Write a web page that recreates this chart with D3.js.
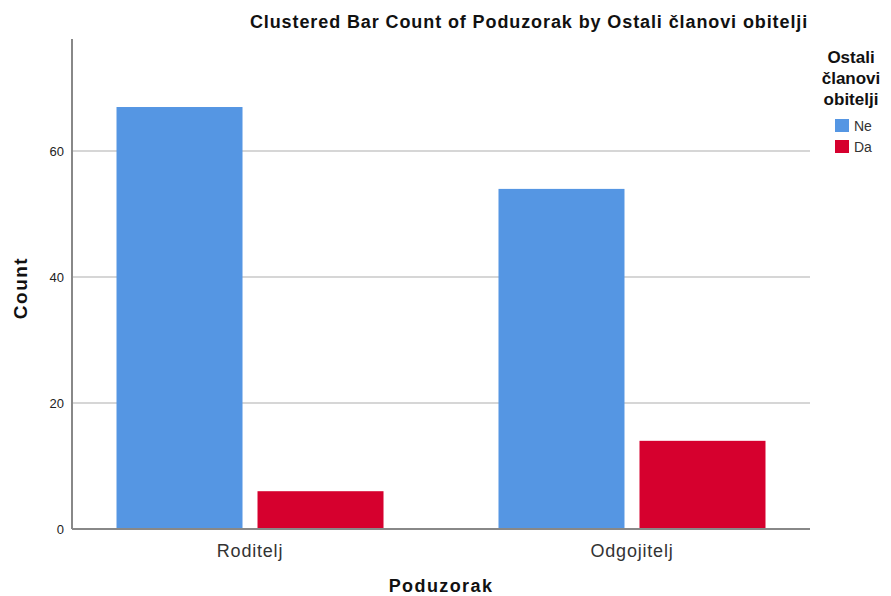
<!DOCTYPE html>
<html>
<head>
<meta charset="utf-8">
<script src="https://cdn.jsdelivr.net/npm/d3@7"></script>
<style>
  body { margin: 0; background: #fff; }
  text { font-family: "Liberation Sans", Arial, sans-serif; }
</style>
</head>
<body>
<svg id="chart" width="891" height="596"></svg>
<script>
const categories = ["Roditelj", "Odgojitelj"]
const groups = ["Ne", "Da"]
const neValues = [67, 54]
const daValues = [6, 14]
const yTicks = [0, 20, 40, 60]
const colors = ["#5596e3", "#d6002e"]

const svg = d3.select("#chart")
const plotL = 72, plotR = 810, plotT = 39, plotB = 529

const x = d3.scalePoint().domain(categories).range([plotL, plotR]).padding(0.466)
const y = d3.scaleLinear().domain([0, 77.8]).range([plotB, plotT])
const barW = 126, gap = 15
const xSub = d3.scaleBand().domain(groups)
  .range([-(barW + gap / 2), barW + gap / 2])
  .paddingInner(gap / (barW + gap))

// gridlines
svg.append("g")
  .selectAll("line")
  .data(yTicks.filter(d => d > 0))
  .join("line")
  .attr("x1", plotL).attr("x2", plotR)
  .attr("y1", d => y(d)).attr("y2", d => y(d))
  .attr("stroke", "#c8c8c8").attr("stroke-width", 1.5)

// bars
const rows = categories.map((c, i) => ({ cat: c, vals: [neValues[i], daValues[i]] }))
rows.forEach(r => {
  svg.append("g")
    .selectAll("rect")
    .data(groups.map((g, j) => ({ g: g, v: r.vals[j], c: colors[j] })))
    .join("rect")
    .attr("x", d => x(r.cat) + xSub(d.g))
    .attr("width", xSub.bandwidth())
    .attr("y", d => y(d.v))
    .attr("height", d => y(0) - y(d.v))
    .attr("fill", d => d.c)
})

// axes
svg.append("line")
  .attr("x1", plotL).attr("x2", plotL).attr("y1", plotT).attr("y2", plotB)
  .attr("stroke", "#888").attr("stroke-width", 2)
svg.append("line")
  .attr("x1", plotL).attr("x2", plotR).attr("y1", plotB).attr("y2", plotB)
  .attr("stroke", "#888").attr("stroke-width", 2)

svg.append("g")
  .selectAll("text")
  .data(yTicks)
  .join("text")
  .attr("x", plotL - 8)
  .attr("y", d => y(d) + 5)
  .attr("text-anchor", "end")
  .attr("font-size", 13)
  .attr("fill", "#222")
  .text(d => d)

svg.append("g")
  .selectAll("text")
  .data(categories)
  .join("text")
  .attr("x", d => x(d))
  .attr("y", 557)
  .attr("text-anchor", "middle")
  .attr("font-size", 18)
  .attr("letter-spacing", 0.8)
  .attr("fill", "#333")
  .text(d => d)

// titles
svg.append("text")
  .attr("x", 529).attr("y", 28)
  .attr("text-anchor", "middle")
  .attr("font-size", 18).attr("font-weight", "bold")
  .attr("letter-spacing", 0.9)
  .attr("fill", "#111")
  .text("Clustered Bar Count of Poduzorak by Ostali članovi obitelji")

svg.append("text")
  .attr("transform", "translate(27,288) rotate(-90)")
  .attr("text-anchor", "middle")
  .attr("font-size", 19).attr("font-weight", "bold")
  .attr("letter-spacing", 1.5)
  .attr("fill", "#111")
  .text("Count")

svg.append("text")
  .attr("x", 441).attr("y", 592)
  .attr("text-anchor", "middle")
  .attr("font-size", 18).attr("font-weight", "bold")
  .attr("letter-spacing", 1.4)
  .attr("fill", "#111")
  .text("Poduzorak")

// legend
const legTitle = ["Ostali", "članovi", "obitelji"]
svg.append("g")
  .selectAll("text")
  .data(legTitle)
  .join("text")
  .attr("x", 851)
  .attr("y", (d, i) => 63 + i * 21)
  .attr("text-anchor", "middle")
  .attr("font-size", 17).attr("font-weight", "bold")
  .attr("fill", "#111")
  .text(d => d)

const leg = svg.append("g")
  .selectAll("g")
  .data(groups)
  .join("g")
  .attr("transform", (d, i) => `translate(835,${119 + i * 21})`)
leg.append("rect")
  .attr("width", 14).attr("height", 13)
  .attr("fill", (d, i) => colors[i])
leg.append("text")
  .attr("x", 19).attr("y", 12)
  .attr("font-size", 14)
  .attr("fill", "#333")
  .text(d => d)
</script>
</body>
</html>
